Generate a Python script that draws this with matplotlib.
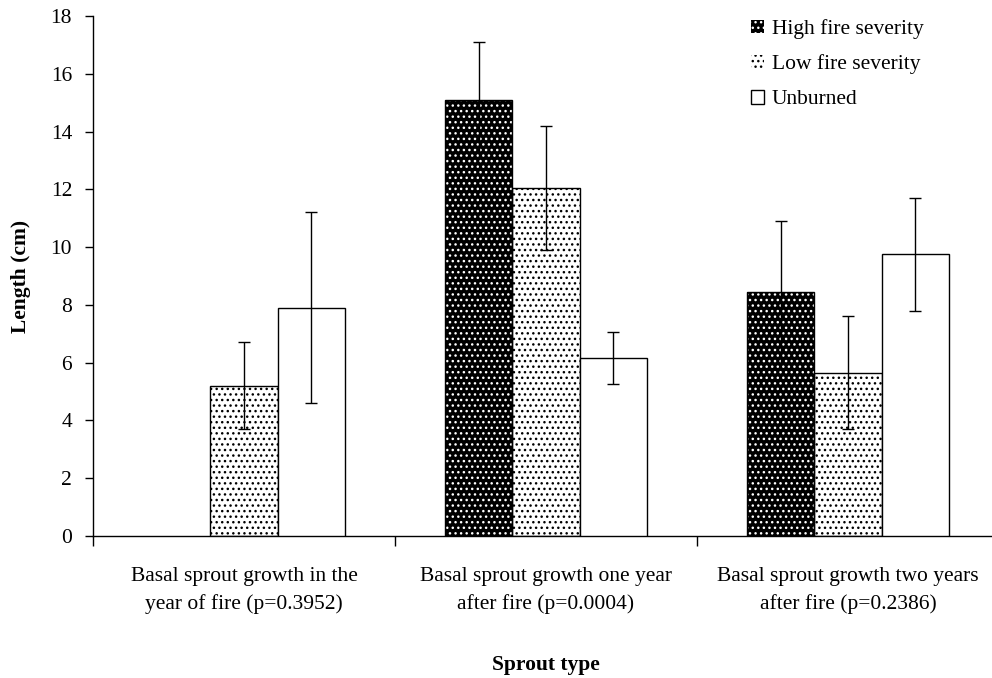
import matplotlib
matplotlib.use("Agg")
import matplotlib.pyplot as plt
from matplotlib.patches import Patch
import numpy as np

plt.rcParams['font.family'] = ['Liberation Serif', 'DejaVu Serif']
plt.rcParams['hatch.linewidth'] = 1.0

categories = [
    "Basal sprout growth in the\nyear of fire (p=0.3952)",
    "Basal sprout growth one year\nafter fire (p=0.0004)",
    "Basal sprout growth two years\nafter fire (p=0.2386)",
]
series = ["High fire severity", "Low fire severity", "Unburned"]
high_mean = [0.0, 15.1, 8.45]
high_err = [0.0, 2.0, 2.45]
low_mean = [5.2, 12.05, 5.65]
low_err = [1.5, 2.15, 1.95]
unburned_mean = [7.9, 6.15, 9.75]
unburned_err = [3.3, 0.9, 1.95]

fig = plt.figure(figsize=(9.92, 6.78), dpi=100)
ax = fig.add_axes([93 / 992, 1 - 536 / 678, 906 / 992, 520 / 678])

x = np.arange(len(categories))
w = 0.222
offsets = [-w, 0, w]


def dotted_bar(xpos, vals, face, dot, hatch):
    # fill with hatch dots, then draw the outline separately
    ax.bar(xpos, vals, w, color=face, edgecolor=dot, hatch=hatch, linewidth=0, zorder=2)
    ax.bar(xpos, vals, w, fill=False, edgecolor='black', linewidth=1.0, zorder=3)


hm = np.array(high_mean)
shown = hm > 0
dotted_bar((x - w)[shown], hm[shown], 'black', 'white', '...')
dotted_bar(x, low_mean, 'white', 'black', '...')
ax.bar(x + w, unburned_mean, w, color='white', edgecolor='black', linewidth=1.0, zorder=3)

for off, m, e in [(offsets[0], high_mean, high_err),
                  (offsets[1], low_mean, low_err),
                  (offsets[2], unburned_mean, unburned_err)]:
    mm = np.array(m)
    ee = np.array(e)
    mask = mm > 0
    ax.errorbar((x + off)[mask], mm[mask], yerr=ee[mask], fmt='none', ecolor='black',
                elinewidth=1.0, capsize=4, capthick=1.0, zorder=4)

ax.set_xlim(-0.5, 2.5)
ax.set_ylim(0, 18)
ax.set_yticks(np.arange(0, 19, 2))
ax.set_xticks([-0.5, 0.5, 1.5, 2.5])
ax.set_xticklabels([])
ax.set_xticks(x, minor=True)
ax.set_xticklabels(categories, minor=True, fontsize=15.5, linespacing=1.55)
ax.tick_params(axis='x', which='minor', length=0, pad=22)
ax.tick_params(axis='x', which='major', direction='out', length=7, width=1)
ax.tick_params(axis='y', direction='out', length=6, width=1, labelsize=15.5, pad=9)

for s in ['top', 'right']:
    ax.spines[s].set_visible(False)
ax.spines['left'].set_linewidth(1.0)
ax.spines['bottom'].set_linewidth(1.0)

ax.set_ylabel("Length (cm)", fontsize=15.5, fontweight='bold', labelpad=14)
ax.set_xlabel("Sprout type", fontsize=15.5, fontweight='bold', labelpad=30)

handles = [
    Patch(facecolor='black', edgecolor='white', hatch='...', linewidth=0),
    Patch(facecolor='white', edgecolor='black', hatch='...', linewidth=0),
    Patch(facecolor='white', edgecolor='black', linewidth=1.0),
]
leg = ax.legend(handles, series, loc='upper left', bbox_to_anchor=(735 / 992, 1 - 3 / 678),
                bbox_transform=fig.transFigure, frameon=False, fontsize=15.5,
                handlelength=0.6, handleheight=0.6, handletextpad=0.35, labelspacing=0.72,
                borderaxespad=0.35)

fig.savefig("out.png", dpi=100)
